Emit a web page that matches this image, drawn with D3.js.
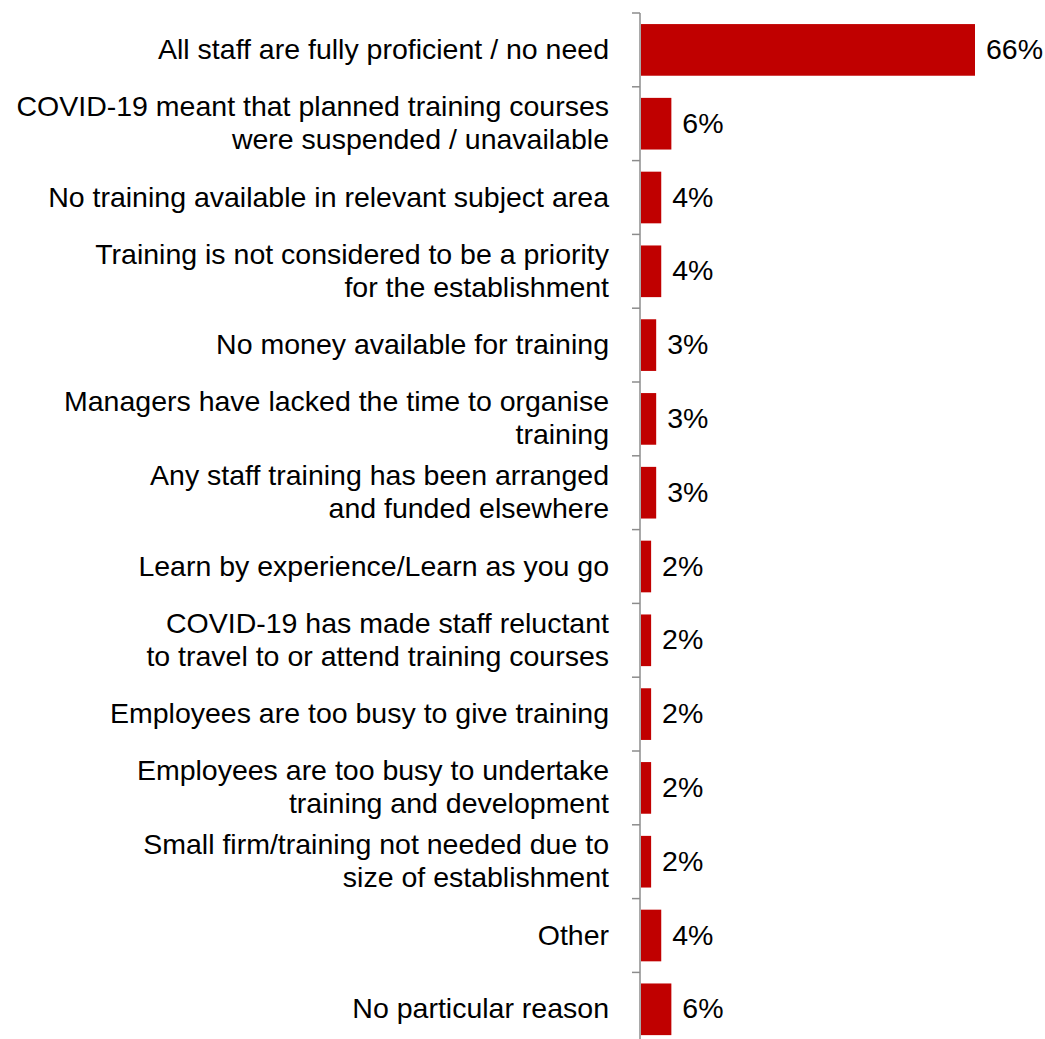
<!DOCTYPE html>
<html>
<head>
<meta charset="utf-8">
<script src="https://cdn.jsdelivr.net/npm/d3@7"></script>
<style>
  html, body { margin: 0; padding: 0; background: #fff; }
  svg { display: block; }
</style>
</head>
<body>
<svg id="chart" width="1045" height="1039"></svg>
<script>
// Reasons for not providing training (share of establishments, %)
const categories = [
  ["All staff are fully proficient / no need"],
  ["COVID-19 meant that planned training courses", "were suspended / unavailable"],
  ["No training available in relevant subject area"],
  ["Training is not considered to be a priority", "for the establishment"],
  ["No money available for training"],
  ["Managers have lacked the time to organise", "training"],
  ["Any staff training has been arranged", "and funded elsewhere"],
  ["Learn by experience/Learn as you go"],
  ["COVID-19 has made staff reluctant", "to travel to or attend training courses"],
  ["Employees are too busy to give training"],
  ["Employees are too busy to undertake", "training and development"],
  ["Small firm/training not needed due to", "size of establishment"],
  ["Other"],
  ["No particular reason"]
];
const values = [66, 6, 4, 4, 3, 3, 3, 2, 2, 2, 2, 2, 4, 6];
const valueLabels = values.map(v => v + "%");

const svg = d3.select("#chart");
const axisX = 640;
const plotTop = 13;
const band = 73.8;
const fontSize = 28.5;
const baselineShift = 9;   // baseline offset from band centre
const lineH = 33;

const y = d3.scaleBand()
  .domain(d3.range(categories.length))
  .range([plotTop, plotTop + band * categories.length])
  .paddingInner(0.3)
  .paddingOuter(0.15);

const x = d3.scaleLinear().domain([0, 66]).range([axisX + 1, 975]);

const font = "'Liberation Sans', Arial, sans-serif";

// bars
svg.append("g").selectAll("rect")
  .data(values)
  .join("rect")
  .attr("x", x(0))
  .attr("y", (d, i) => y(i))
  .attr("width", d => x(d) - x(0))
  .attr("height", y.bandwidth())
  .attr("fill", "#C00000");

// value labels
svg.append("g").selectAll("text")
  .data(values)
  .join("text")
  .attr("x", d => x(d) + 11)
  .attr("y", (d, i) => y(i) + y.bandwidth() / 2 + baselineShift)
  .attr("font-family", font)
  .attr("font-size", fontSize)
  .attr("fill", "#000")
  .text((d, i) => valueLabels[i]);

// category axis: line with ticks at band boundaries
const axisG = svg.append("g");
const plotBottom = plotTop + band * categories.length;
axisG.append("line")
  .attr("x1", axisX).attr("x2", axisX)
  .attr("y1", plotTop).attr("y2", plotBottom)
  .attr("stroke", "#8C8C8C").attr("stroke-width", 1.5);
axisG.selectAll("line.tick")
  .data(d3.range(categories.length + 1))
  .join("line")
  .attr("class", "tick")
  .attr("x1", axisX - 8).attr("x2", axisX)
  .attr("y1", i => plotTop + i * band)
  .attr("y2", i => plotTop + i * band)
  .attr("stroke", "#8C8C8C").attr("stroke-width", 1.5);

// category labels (right-aligned, possibly two lines)
const labels = svg.append("g").selectAll("text")
  .data(categories)
  .join("text")
  .attr("text-anchor", "end")
  .attr("font-family", font)
  .attr("font-size", fontSize)
  .attr("fill", "#000")
  .attr("y", (d, i) => y(i) + y.bandwidth() / 2 + baselineShift);

labels.each(function(lines) {
  const t = d3.select(this);
  const n = lines.length;
  lines.forEach((ln, k) => {
    t.append("tspan")
      .attr("x", 609)
      .attr("dy", k === 0 ? -(n - 1) * lineH / 2 : lineH)
      .text(ln);
  });
});
</script>
</body>
</html>
